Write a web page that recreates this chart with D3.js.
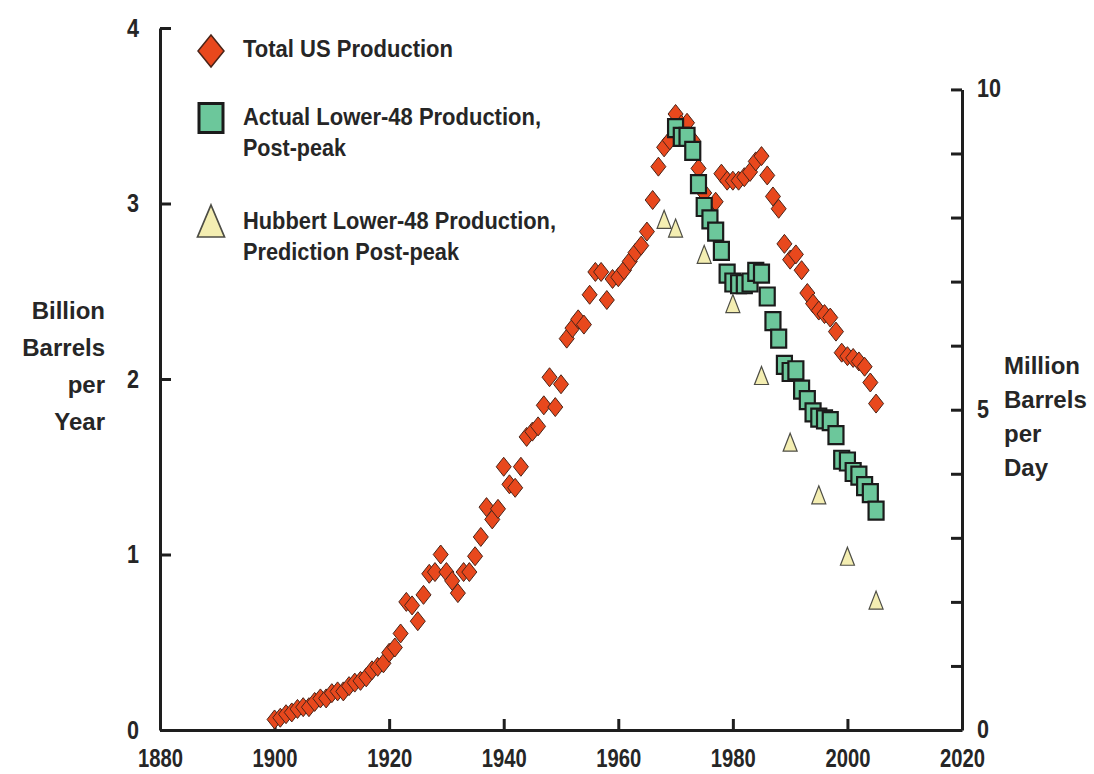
<!DOCTYPE html>
<html>
<head>
<meta charset="utf-8">
<script src="https://cdn.jsdelivr.net/npm/d3@7"></script>
<style>
  html, body { margin: 0; padding: 0; background: #fff; }
  svg { display: block; }
  text { font-family: "Liberation Sans", Arial, Helvetica, sans-serif; font-weight: bold; fill: #262626; }
</style>
</head>
<body>
<svg id="chart" width="1094" height="774"></svg>
<script>
// US crude oil production, billion barrels per year
const totalFirstYear = 1900;
const totalUS = [
  0.06, 0.07, 0.09, 0.10, 0.12, 0.13, 0.13, 0.16, 0.18, 0.18,   // 1900-1909
  0.21, 0.22, 0.22, 0.25, 0.27, 0.28, 0.30, 0.34, 0.36, 0.38,   // 1910-1919
  0.44, 0.47, 0.55, 0.73, 0.71, 0.62, 0.77, 0.89, 0.90, 1.00,   // 1920-1929
  0.90, 0.85, 0.78, 0.90, 0.90, 0.99, 1.10, 1.27, 1.20, 1.26,   // 1930-1939
  1.50, 1.40, 1.38, 1.50, 1.67, 1.70, 1.73, 1.85, 2.01, 1.84,   // 1940-1949
  1.97, 2.23, 2.29, 2.34, 2.31, 2.48, 2.61, 2.61, 2.45, 2.57,   // 1950-1959
  2.58, 2.62, 2.67, 2.72, 2.76, 2.84, 3.02, 3.21, 3.32, 3.36,   // 1960-1969
  3.51, 3.45, 3.46, 3.36, 3.20, 3.06, 2.98, 3.01, 3.17, 3.13,   // 1970-1979
  3.13, 3.13, 3.15, 3.18, 3.24, 3.27, 3.16, 3.04, 2.97, 2.77,   // 1980-1989
  2.68, 2.71, 2.62, 2.49, 2.43, 2.39, 2.37, 2.35, 2.27, 2.15,   // 1990-1999
  2.13, 2.12, 2.10, 2.07, 1.98, 1.86                            // 2000-2005
];

// Lower-48 production after the 1970 peak
const lower48FirstYear = 1970;
const lower48Actual = [
  3.43, 3.38, 3.38, 3.30, 3.11, 2.98, 2.91, 2.84, 2.73, 2.60,   // 1970-1979
  2.55, 2.54, 2.54, 2.55, 2.61, 2.60, 2.47, 2.33, 2.23, 2.08,   // 1980-1989
  2.04, 2.05, 1.94, 1.88, 1.81, 1.78, 1.77, 1.76, 1.68, 1.54,   // 1990-1999
  1.53, 1.47, 1.45, 1.39, 1.35, 1.25                            // 2000-2005
];

// Hubbert's post-peak prediction for the lower 48
const hubbertYears = [1968, 1970, 1975, 1980, 1985, 1990, 1995, 2000, 2005];
const hubbertPrediction = [2.91, 2.86, 2.71, 2.43, 2.02, 1.64, 1.34, 0.99, 0.74];

const xTicks = [1880, 1900, 1920, 1940, 1960, 1980, 2000, 2020];
const leftTicks = [0, 1, 2, 3, 4];
const rightTicks = [0, 1, 2, 3, 4, 5, 6, 7, 8, 9, 10];
const rightLabelled = [0, 5, 10];
const leftTitle = ["Billion", "Barrels", "per", "Year"];
const rightTitle = ["Million", "Barrels", "per", "Day"];
const legendItems = [
  { shape: "diamond", lines: ["Total US Production"] },
  { shape: "square", lines: ["Actual Lower-48 Production,", "Post-peak"] },
  { shape: "triangle", lines: ["Hubbert Lower-48 Production,", "Prediction Post-peak"] }
];

const BBL_PER_YEAR_PER_MBD = 0.365; // 1 million b/d = 0.365 billion b/yr

const svg = d3.select("#chart");

const x = d3.scaleLinear().domain([1880, 2020]).range([160, 962]);
const y = d3.scaleLinear().domain([0, 4]).range([730, 28]);
const yR = d3.scaleLinear().domain([0, 10]).range([730, y(10 * BBL_PER_YEAR_PER_MBD)]);

const styles = {
  diamond:  { fill: "#e8481d", stroke: "#4a2418", sw: 1 },
  square:   { fill: "#6cc79b", stroke: "#1b1b1b", sw: 2.2 },
  triangle: { fill: "#f4eeb2", stroke: "#4d4d45", sw: 1.2 }
};

function shapePath(shape, w, h) {
  if (shape === "diamond") return `M0,${-h / 2}L${w / 2},0L0,${h / 2}L${-w / 2},0Z`;
  if (shape === "square") return `M${-w / 2},${-h / 2}H${w / 2}V${h / 2}H${-w / 2}Z`;
  return `M0,${-h / 2}L${w / 2},${h / 2}L${-w / 2},${h / 2}Z`;
}

// ---- axes ----
const axisColor = "#1e1e1e";
function styleAxis(g) {
  g.select(".domain").attr("stroke", axisColor).attr("stroke-width", 3);
  g.selectAll(".tick line").attr("stroke", axisColor).attr("stroke-width", 3);
  g.selectAll(".tick text")
    .attr("fill", "#262626")
    .style("font-family", '"Liberation Sans", Arial, sans-serif')
    .style("font-weight", "bold")
    .style("font-size", "25px")
    .each(function () {
      const s = this.textContent;
      if (s) d3.select(this).attr("textLength", s.length * 12).attr("lengthAdjust", "spacingAndGlyphs");
    });
}

const gx = svg.append("g")
  .attr("transform", `translate(0,${y(0)})`)
  .call(d3.axisBottom(x).tickValues(xTicks).tickFormat(d3.format("d"))
    .tickSizeInner(-11).tickSizeOuter(0).tickPadding(19))
  .call(styleAxis);
gx.selectAll(".tick text").attr("dy", "0.71em").attr("textLength", 45);

const gl = svg.append("g")
  .attr("transform", `translate(${x(1880)},0)`)
  .call(d3.axisLeft(y).tickValues(leftTicks).tickFormat(d3.format("d"))
    .tickSizeInner(-11).tickSizeOuter(0).tickPadding(21))
  .call(styleAxis);

const gr = svg.append("g")
  .attr("transform", `translate(${x(2020)},0)`)
  .call(d3.axisRight(yR).tickValues(rightTicks)
    .tickFormat(d => rightLabelled.includes(d) ? d : "")
    .tickSizeInner(-11).tickSizeOuter(0).tickPadding(15))
  .call(styleAxis);
gr.selectAll(".tick text").attr("dy", "0.3em");

// ---- axis titles ----
const leftTitleG = svg.append("g");
leftTitle.forEach((t, i) => {
  leftTitleG.append("text")
    .attr("x", 105).attr("y", 319 + i * 37)
    .attr("text-anchor", "end")
    .style("font-size", "24px")
    .text(t);
});
const rightTitleG = svg.append("g");
rightTitle.forEach((t, i) => {
  rightTitleG.append("text")
    .attr("x", 1004).attr("y", 374 + i * 34)
    .style("font-size", "24px")
    .text(t);
});

// ---- data marks ----
const plot = svg.append("g");

const totalPts = totalUS.map((v, i) => ({ year: totalFirstYear + i, value: v }));
plot.append("g").selectAll("path").data(totalPts).join("path")
  .attr("transform", d => `translate(${x(d.year)},${y(d.value)})`)
  .attr("d", shapePath("diamond", 15, 19))
  .attr("fill", styles.diamond.fill).attr("stroke", styles.diamond.stroke)
  .attr("stroke-width", styles.diamond.sw);

const lowerPts = lower48Actual.map((v, i) => ({ year: lower48FirstYear + i, value: v }));
plot.append("g").selectAll("path").data(lowerPts).join("path")
  .attr("transform", d => `translate(${x(d.year)},${y(d.value)})`)
  .attr("d", shapePath("square", 15, 18))
  .attr("fill", styles.square.fill).attr("stroke", styles.square.stroke)
  .attr("stroke-width", styles.square.sw);

const hubbertPts = hubbertYears.map((yr, i) => ({ year: yr, value: hubbertPrediction[i] }));
plot.append("g").selectAll("path").data(hubbertPts).join("path")
  .attr("transform", d => `translate(${x(d.year)},${y(d.value)})`)
  .attr("d", shapePath("triangle", 14, 18))
  .attr("fill", styles.triangle.fill).attr("stroke", styles.triangle.stroke)
  .attr("stroke-width", styles.triangle.sw);

// ---- legend ----
const legend = svg.append("g");
const legendRows = [
  { cy: 51, sizes: [26, 32], baselines: [57] },
  { cy: 118, sizes: [24, 29], baselines: [125, 156] },
  { cy: 221, sizes: [27, 32], baselines: [229, 260] }
];
const legendWidths = [[210], [298, 103], [313, 216]];
legendItems.forEach((item, i) => {
  const row = legendRows[i];
  const st = styles[item.shape];
  legend.append("path")
    .attr("transform", `translate(211,${row.cy})`)
    .attr("d", shapePath(item.shape, row.sizes[0], row.sizes[1]))
    .attr("fill", st.fill).attr("stroke", st.stroke)
    .attr("stroke-width", item.shape === "square" ? 3 : st.sw + 0.5);
  item.lines.forEach((line, j) => {
    legend.append("text")
      .attr("x", 243).attr("y", row.baselines[j])
      .style("font-size", "23px")
      .attr("textLength", legendWidths[i][j])
      .attr("lengthAdjust", "spacingAndGlyphs")
      .text(line);
  });
});
</script>
</body>
</html>
